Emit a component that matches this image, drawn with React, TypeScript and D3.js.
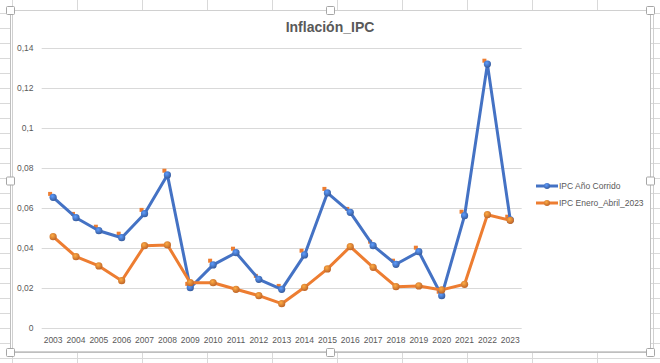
import React, { useEffect, useRef } from 'react';
import * as d3 from 'd3';

const years = ['2003', '2004', '2005', '2006', '2007', '2008', '2009', '2010', '2011', '2012', '2013',
  '2014', '2015', '2016', '2017', '2018', '2019', '2020', '2021', '2022', '2023'];

const ipcAnoCorrido = [0.0655, 0.0553, 0.0488, 0.0453, 0.0573, 0.0767, 0.0203, 0.0317, 0.0378, 0.0245, 0.0195,
  0.0367, 0.0677, 0.058, 0.0413, 0.032, 0.0383, 0.0163, 0.0563, 0.1321, 0.0542];

const ipcEneroAbril = [0.0458, 0.0358, 0.0312, 0.0238, 0.0413, 0.0417, 0.0228, 0.0228, 0.0195, 0.0163, 0.0123,
  0.0205, 0.0297, 0.0408, 0.0305, 0.0208, 0.0212, 0.0192, 0.022, 0.0568, 0.054];

// small orange squares, no line, not in legend
const ipcSquares = [0.0672, 0.0572, 0.0508, 0.0473, 0.0592, 0.0788, 0.0222, 0.0338, 0.0398, 0.0262, 0.0212,
  0.0388, 0.0697, 0.0597, 0.0433, 0.0338, 0.0403, 0.0183, 0.0583, 0.1338, 0.0558];

const yTicks = [0, 0.02, 0.04, 0.06, 0.08, 0.1, 0.12, 0.14];

const seriesNames = ['IPC Año Corrido', 'IPC Enero_Abril_2023'];
const seriesColors = ['#4472C4', '#ED7D31'];

const W = 660;
const H = 363;
const font = '"Liberation Sans", Arial, sans-serif';

const App: React.FC = () => {
  const svgRef = useRef<SVGSVGElement>(null);

  useEffect(() => {
    if (!svgRef.current) return;
    const svg = d3.select(svgRef.current);
    svg.selectAll('*').remove();

    // gradients for the shiny round markers
    const defs = svg.append('defs');
    seriesColors.forEach((c, i) => {
      const g = defs.append('radialGradient')
        .attr('id', 'mk' + i)
        .attr('cx', '40%').attr('cy', '35%').attr('r', '65%');
      g.append('stop').attr('offset', '0%').attr('stop-color', d3.color(c)!.brighter(0.9).toString());
      g.append('stop').attr('offset', '100%').attr('stop-color', d3.color(c)!.darker(0.6).toString());
    });

    // spreadsheet cells behind the chart
    const sheet = svg.append('g').attr('stroke', '#d9d9d9').attr('stroke-width', 1);
    d3.range(12, W, 65).forEach(x => {
      sheet.append('line').attr('x1', x + 0.5).attr('x2', x + 0.5).attr('y1', 0).attr('y2', H);
    });
    d3.range(-2, H, 15).forEach(y => {
      sheet.append('line').attr('x1', 0).attr('x2', W).attr('y1', y + 0.5).attr('y2', y + 0.5);
    });

    // chart area
    svg.append('rect')
      .attr('x', 10.5).attr('y', 10.5).attr('width', 640).attr('height', 342)
      .attr('fill', '#fff').attr('stroke', '#bfbfbf');
    svg.append('rect')
      .attr('x', 12.5).attr('y', 10.5).attr('width', 641).attr('height', 341)
      .attr('fill', 'none').attr('stroke', '#d0d0d0');

    const x = d3.scaleBand().domain(years).range([41.7, 521.7]);
    const y = d3.scaleLinear().domain([0, 0.14]).range([328.3, 48.3]);
    const cx = (d: string) => (x(d) ?? 0) + x.bandwidth() / 2;

    // title
    svg.append('text')
      .attr('x', 330).attr('y', 32)
      .attr('text-anchor', 'middle')
      .attr('font-family', font).attr('font-size', 14).attr('font-weight', 'bold')
      .attr('fill', '#595959')
      .text('Inflación_IPC');

    // gridlines + y labels
    const fmt = (v: number) => String(+v.toFixed(2)).replace('.', ',');
    const grid = svg.append('g');
    yTicks.forEach(t => {
      grid.append('line')
        .attr('x1', 41.7).attr('x2', 521.7)
        .attr('y1', Math.round(y(t)) + 0.5).attr('y2', Math.round(y(t)) + 0.5)
        .attr('stroke', '#d9d9d9').attr('stroke-width', 1);
      grid.append('text')
        .attr('x', 33.5).attr('y', y(t) + 3)
        .attr('text-anchor', 'end')
        .attr('font-family', font).attr('font-size', 8.5).attr('fill', '#595959')
        .text(fmt(t));
    });

    // x labels
    years.forEach(yr => {
      svg.append('text')
        .attr('x', cx(yr)).attr('y', 343)
        .attr('text-anchor', 'middle')
        .attr('font-family', font).attr('font-size', 8.5).attr('fill', '#595959')
        .text(yr);
    });

    // square markers
    svg.append('g').selectAll('rect')
      .data(ipcSquares)
      .join('rect')
      .attr('x', (d, i) => cx(years[i]) - 3 - 2)
      .attr('y', d => y(d) - 2)
      .attr('width', 4).attr('height', 4)
      .attr('fill', '#ED7D31');

    const line = d3.line<number>()
      .x((d, i) => cx(years[i]))
      .y(d => y(d));

    [ipcAnoCorrido, ipcEneroAbril].forEach((vals, si) => {
      const g = svg.append('g');
      g.append('path')
        .attr('d', line(vals))
        .attr('fill', 'none')
        .attr('stroke', seriesColors[si])
        .attr('stroke-width', 3)
        .attr('stroke-linejoin', 'round');
      g.selectAll('circle')
        .data(vals)
        .join('circle')
        .attr('cx', (d, i) => cx(years[i]))
        .attr('cy', d => y(d))
        .attr('r', 3.6)
        .attr('fill', `url(#mk${si})`);
    });

    // legend
    seriesNames.forEach((name, i) => {
      const ly = 186 + i * 17;
      const lg = svg.append('g');
      lg.append('line')
        .attr('x1', 536).attr('x2', 558).attr('y1', ly).attr('y2', ly)
        .attr('stroke', seriesColors[i]).attr('stroke-width', 3);
      lg.append('circle').attr('cx', 547).attr('cy', ly).attr('r', 3).attr('fill', `url(#mk${i})`);
      lg.append('text')
        .attr('x', 559).attr('y', ly + 3)
        .attr('font-family', font).attr('font-size', 8.5).attr('fill', '#595959')
        .text(name);
    });

    // selection handles
    const hx = [10.5, 330.5, 650.5];
    const hy = [10.5, 181, 352.5];
    hx.forEach((px, a) => hy.forEach((py, b) => {
      if (a === 1 && b === 1) return;
      svg.append('rect')
        .attr('x', px - 4).attr('y', py - 4).attr('width', 8).attr('height', 8)
        .attr('rx', 1)
        .attr('fill', '#fff').attr('stroke', '#a6a6a6');
    }));
  }, []);

  return (
    <div style={{ position: 'absolute', left: 0, top: 0, width: W, height: H, background: '#fff' }}>
      <svg ref={svgRef} width={W} height={H} viewBox={`0 0 ${W} ${H}`} style={{ display: 'block' }} />
    </div>
  );
};

export default App;
